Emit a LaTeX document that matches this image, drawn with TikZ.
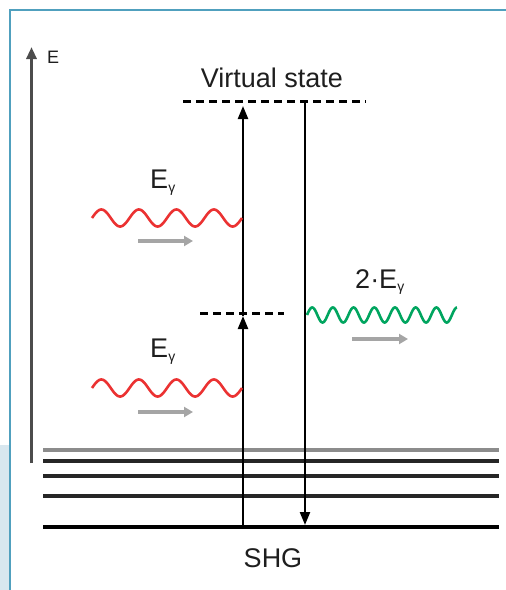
\documentclass[tikz,border=0pt]{standalone}
\usepackage{fontspec}
\setmainfont{Liberation Sans}
\usetikzlibrary{arrows.meta}
\definecolor{framecol}{RGB}{80,160,190}
\definecolor{fillcol}{RGB}{216,231,239}
\definecolor{wavered}{RGB}{235,50,50}
\definecolor{wavegreen}{RGB}{0,165,95}
\definecolor{arrowgray}{RGB}{165,165,165}
\definecolor{txt}{RGB}{30,30,30}
\tikzset{
  frameline/.style={draw=framecol, line width=2pt},
  levelline/.style={line width=3.2pt, draw=black!85},
  groundline/.style={line width=4.6pt, draw=black},
  transition/.style={line width=2.3pt, draw=black, -{Triangle[length=13pt,width=10pt]}},
  virtline/.style={line width=2.6pt, draw=black, dash pattern=on 8pt off 5pt},
  photonarrow/.style={line width=3.4pt, draw=arrowgray, -{Triangle[length=9pt,width=10pt]}},
  wave/.style={line width=2.6pt},
  lbl/.style={text=txt, inner sep=0pt, font=\fontsize{27}{30}\selectfont},
}
\begin{document}
\begin{tikzpicture}[x=1pt, y=-1pt]
\useasboundingbox (0,0) rectangle (506,590);
% frame
\fill[fillcol] (0,445) rectangle (9,590);
\draw[frameline] (10,590) -- (10,10) -- (506,10);
% energy axis
\coordinate (axb) at (31.5,463);
\coordinate (axt) at (31.5,47);
\draw[line width=3.4pt, draw=black!70, -{Triangle[length=12pt,width=10pt]}] (axb) -- (axt);
\node[lbl, font=\fontsize{18}{20}\selectfont, anchor=west] (elbl) at (47,57) {E};
% levels
\coordinate (l1a) at (43,450); \coordinate (l1b) at (499,450);
\coordinate (l2a) at (43,461); \coordinate (l2b) at (499,461);
\coordinate (l3a) at (43,476); \coordinate (l3b) at (499,476);
\coordinate (l4a) at (43,496); \coordinate (l4b) at (499,496);
\coordinate (l5a) at (43,527); \coordinate (l5b) at (499,527);
\draw[levelline, draw=black!45] (l1a) -- (l1b);
\draw[levelline] (l2a) -- (l2b);
\draw[levelline] (l3a) -- (l3b);
\draw[levelline] (l4a) -- (l4b);
\draw[groundline] (l5a) -- (l5b);
% virtual levels
\coordinate (va) at (183,101.5); \coordinate (vb) at (366,101.5);
\draw[virtline] (va) -- (vb);
\coordinate (ma) at (200,313.5); \coordinate (mb) at (284,313.5);
\draw[virtline] (ma) -- (mb);
\node[lbl] (vs) at (272,78) {Virtual state};
% transitions
\coordinate (upb) at (243,527);
\coordinate (upm) at (243,316);
\coordinate (upt) at (243,106);
\draw[transition] (upb) -- (upm);
\draw[transition] (upm) -- (upt);
\coordinate (dnt) at (305,101);
\coordinate (dnb) at (305,525);
\draw[transition] (dnt) -- (dnb);
% photons
\draw[wavered, wave] plot[domain=92:242, samples=240] (\x, {218-8.5*sin(9.6*(\x-92))});
\draw[wavered, wave] plot[domain=92:242, samples=240] (\x, {388-8.5*sin(9.6*(\x-92))});
\draw[wavegreen, wave] plot[domain=307:457, samples=300] (\x, {315-7.5*sin(17.39*(\x-307))});
\coordinate (g1a) at (138,241); \coordinate (g1b) at (193,241);
\coordinate (g2a) at (138,412); \coordinate (g2b) at (193,412);
\coordinate (g3a) at (352,339); \coordinate (g3b) at (408,339);
\draw[photonarrow] (g1a) -- (g1b);
\draw[photonarrow] (g2a) -- (g2b);
\draw[photonarrow] (g3a) -- (g3b);
\node[lbl] (e1) at (163,183) {E\textsubscript{\fontsize{14}{15}\selectfont γ}};
\node[lbl] (e2) at (163,352) {E\textsubscript{\fontsize{14}{15}\selectfont γ}};
\node[lbl] (e3) at (380,282) {2·E\textsubscript{\fontsize{14}{15}\selectfont γ}};
\node[lbl] (shg) at (273,558) {SHG};
\end{tikzpicture}
\end{document}
